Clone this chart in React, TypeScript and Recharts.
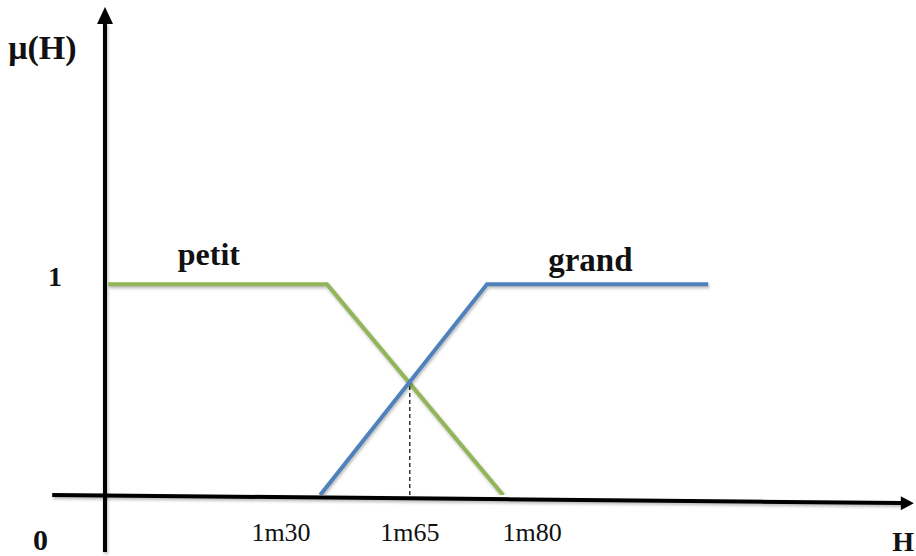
import {
  LineChart,
  Line,
  XAxis,
  YAxis,
  ReferenceLine,
  ReferenceDot,
} from 'recharts';

// Membership functions μ(H) for the two height sets, on a schematic H axis (0–100)
const PETIT_H = [0.4, 27.75, 49.75];
const PETIT_MU = [1, 1, 0];
const GRAND_H = [26.9, 47.75, 75.4];
const GRAND_MU = [0, 1, 1];

// Crossing of the two sets, marked with a dashed drop line
const CROSS_H = 38.1;
const CROSS_MU = 0.53;

const TICK_H = [22, 38.1, 53.4];
const TICK_LABELS = ['1m30', '1m65', '1m80'];
const MU_TICKS = [1];

const SERIF = '"Liberation Serif", "Times New Roman", serif';
const GREEN = '#92B558';
const BLUE = '#4F81BD';
const INK = '#111';

const petitData = PETIT_H.map((h, i) => ({ x: h, y: PETIT_MU[i] }));
const grandData = GRAND_H.map((h, i) => ({ x: h, y: GRAND_MU[i] }));

// eslint-disable-next-line @typescript-eslint/no-explicit-any
const XTick = ({ x, y, payload }: any) => {
  const idx = TICK_H.indexOf(payload.value);
  return (
    <text x={x} y={y} dy={46} textAnchor="middle" fontFamily={SERIF} fontSize={26} fill={INK}>
      {TICK_LABELS[idx]}
    </text>
  );
};

// eslint-disable-next-line @typescript-eslint/no-explicit-any
const YTick = ({ x, y, payload }: any) => (
  <text x={x - 50} y={y} dy={2} textAnchor="middle" fontFamily={SERIF} fontSize={28} fontWeight="bold" fill={INK}>
    {payload.value}
  </text>
);

// text drawn at a data position (start anchored)
const textShape = (label: string, size: number, bold = true) =>
  // eslint-disable-next-line @typescript-eslint/no-explicit-any
  (p: any) => (
    <text x={p.cx} y={p.cy} fontFamily={SERIF} fontSize={size} fontWeight={bold ? 'bold' : 'normal'} fill={INK}>
      {label}
    </text>
  );

// eslint-disable-next-line @typescript-eslint/no-explicit-any
const upArrow = (p: any) => (
  <polygon points={`${p.cx},${p.cy} ${p.cx - 8},${p.cy + 17} ${p.cx + 8},${p.cy + 17}`} fill="#000" />
);

// eslint-disable-next-line @typescript-eslint/no-explicit-any
const rightArrow = (p: any) => (
  <polygon points={`${p.cx},${p.cy} ${p.cx - 13},${p.cy - 7} ${p.cx - 13},${p.cy + 7}`} fill="#000" />
);

export default function App() {
  return (
    <div style={{ position: 'absolute', left: 0, top: 0, width: 916, height: 556, background: '#fff' }}>
      <style>{`
        .recharts-line-curve, .axis-shadow line { filter: drop-shadow(1px 2px 1.5px rgba(0,0,0,0.28)); }
      `}</style>
      <LineChart width={916} height={556} margin={{ top: 10, right: 11, bottom: 0, left: 0 }}>
        <XAxis
          type="number"
          dataKey="x"
          domain={[0, 100]}
          ticks={TICK_H}
          tick={<XTick />}
          axisLine={false}
          tickLine={false}
          tickSize={0}
          tickMargin={0}
          height={61}
          allowDataOverflow
        />
        <YAxis
          type="number"
          domain={[0, 2.3]}
          ticks={MU_TICKS}
          tick={<YTick />}
          axisLine={false}
          tickLine={false}
          tickSize={0}
          tickMargin={0}
          width={105}
          allowDataOverflow
        />

        {/* axes */}
        <ReferenceLine
          className="axis-shadow"
          segment={[{ x: 0, y: -0.27 }, { x: 0, y: 2.24 }]}
          stroke="#000"
          strokeWidth={4}
          ifOverflow="visible"
        />
        <ReferenceDot x={0} y={2.314} r={0} ifOverflow="visible" shape={upArrow} />
        <ReferenceLine
          className="axis-shadow"
          segment={[{ x: -6.6, y: 0 }, { x: 99.6, y: -0.038 }]}
          stroke="#000"
          strokeWidth={4}
          ifOverflow="visible"
        />
        <ReferenceDot x={101.1} y={-0.039} r={0} ifOverflow="visible" shape={rightArrow} />

        {/* drop line at the crossing */}
        <ReferenceLine
          segment={[{ x: CROSS_H, y: 0 }, { x: CROSS_H, y: CROSS_MU }]}
          stroke="#000"
          strokeWidth={1.2}
          strokeDasharray="4 3"
          ifOverflow="visible"
        />

        <Line
          data={petitData}
          dataKey="y"
          type="linear"
          stroke={GREEN}
          strokeWidth={4}
          dot={false}
          activeDot={false}
          isAnimationActive={false}
        />
        <Line
          data={grandData}
          dataKey="y"
          type="linear"
          stroke={BLUE}
          strokeWidth={4}
          dot={false}
          activeDot={false}
          isAnimationActive={false}
        />

        {/* labels */}
        <ReferenceDot x={9.1} y={1.09} r={0} ifOverflow="visible" shape={textShape('petit', 32)} />
        <ReferenceDot x={55.4} y={1.062} r={0} ifOverflow="visible" shape={textShape('grand', 33)} />
        <ReferenceDot x={-12.1} y={2.067} r={0} ifOverflow="visible" shape={textShape('μ(H)', 34)} />
        <ReferenceDot x={-9} y={-0.261} r={0} ifOverflow="visible" shape={textShape('0', 30)} />
        <ReferenceDot x={98.4} y={-0.266} r={0} ifOverflow="visible" shape={textShape('H', 28)} />
      </LineChart>
    </div>
  );
}
